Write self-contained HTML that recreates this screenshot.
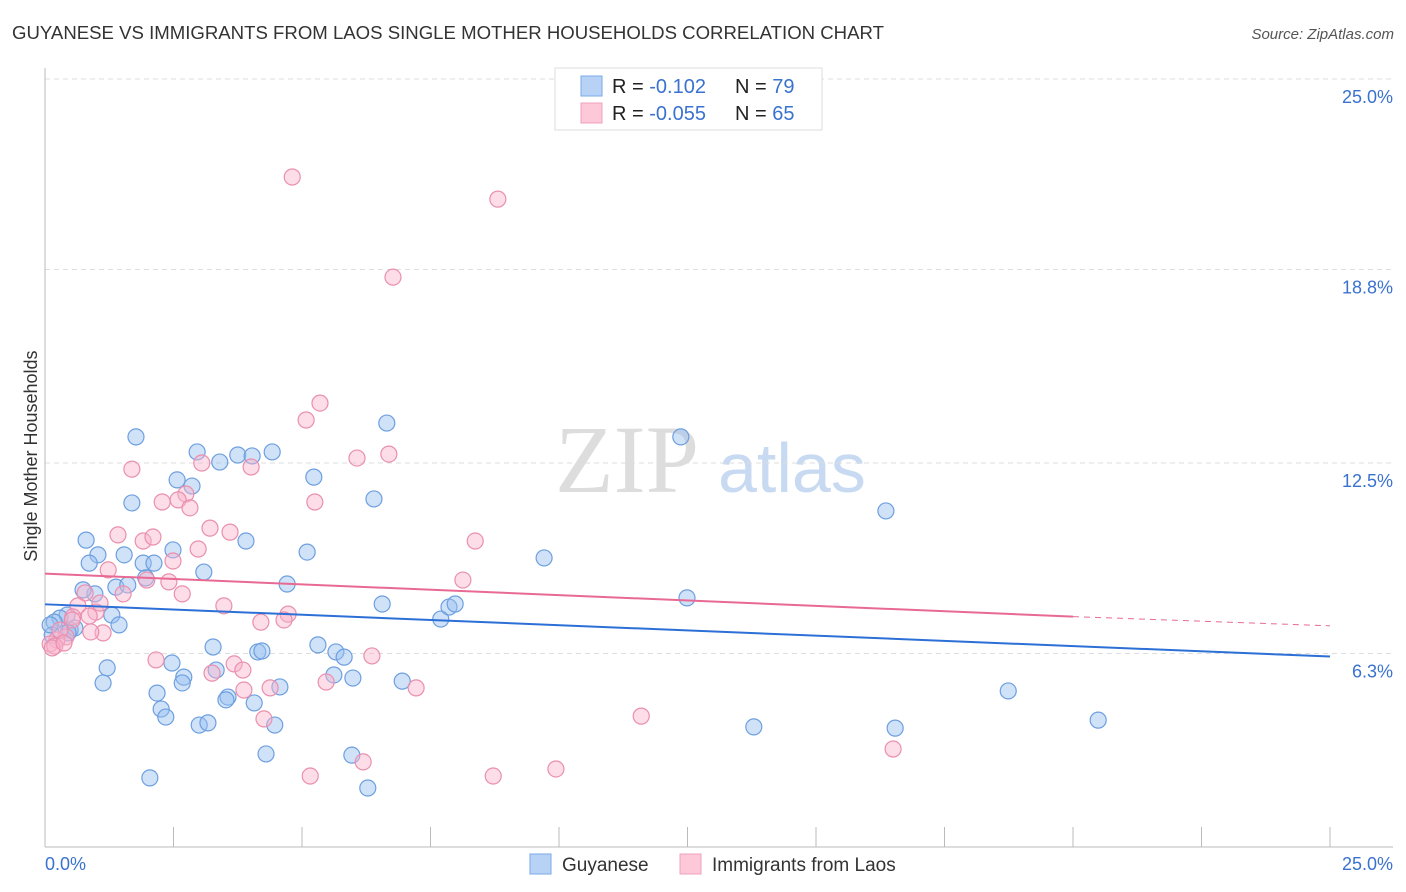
<!DOCTYPE html>
<html><head><meta charset="utf-8"><style>
body{margin:0;background:#fff;font-family:"Liberation Sans",sans-serif;}
#wrap{position:relative;width:1406px;height:892px;overflow:hidden;}
</style></head><body>
<div id="wrap">
<svg id="svg" width="1406" height="892" xmlns="http://www.w3.org/2000/svg">
<text x="12" y="39" font-size="18.6" fill="#333">GUYANESE VS IMMIGRANTS FROM LAOS SINGLE MOTHER HOUSEHOLDS CORRELATION CHART</text>
<text x="1394" y="39" font-size="15" fill="#555" font-style="italic" text-anchor="end">Source: ZipAtlas.com</text>
<text x="37" y="456" font-size="18" fill="#333" text-anchor="middle" transform="rotate(-90 37 456)">Single Mother Households</text>
<text x="555" y="492" font-size="96" fill="#ddd" font-family="Liberation Serif,serif">ZIP</text>
<text x="718" y="492" font-size="70" fill="#c8daf2">atlas</text>
<g id="grid"></g><g id="pts"></g><g id="trend"></g>
<g>
<rect x="555" y="68" width="267" height="62" fill="#fff" stroke="#ddd"/>
<rect x="581" y="76" width="21" height="20" fill="#b8d2f6" stroke="#7aaae8"/>
<rect x="581" y="103" width="21" height="20" fill="#fdc8d8" stroke="#f0a0bc"/>
<text x="612" y="93" font-size="20" fill="#222">R = <tspan fill="#3a72d0"> -0.102</tspan><tspan x="735">N = </tspan><tspan fill="#3a72d0">79</tspan></text>
<text x="612" y="120" font-size="20" fill="#222">R = <tspan fill="#3a72d0">-0.055</tspan><tspan x="735">N = </tspan><tspan fill="#3a72d0">65</tspan></text>
</g>
<g>
<rect x="530" y="854" width="21" height="20" fill="#b8d2f6" stroke="#7aaae8"/>
<text x="562" y="871" font-size="19" fill="#333">Guyanese</text>
<rect x="680" y="854" width="21" height="20" fill="#fdc8d8" stroke="#f0a0bc"/>
<text x="712" y="871" font-size="19" fill="#333">Immigrants from Laos</text>
</g>
</svg>
</div>
<script>
const yTicks=[25.0,18.8,12.5,6.3];
const yTickLabels=["25.0%","18.8%","12.5%","6.3%"];
const xTickLabels=["0.0%","25.0%"];
const blueTrend=[7.9,6.2];
const pinkTrend=[8.9,7.5,7.2];
const bluePx=[[136,437],[197,452],[238,455],[252,456],[272,452],[220,462],[177,480],[192,486],[132,503],[314,477],[387,423],[681,437],[374,499],[886,511],[86,540],[98,555],[124,555],[89,563],[143,563],[154,563],[173,550],[246,541],[307,552],[544,558],[204,572],[146,578],[116,587],[128,585],[287,584],[95,594],[83,590],[67,615],[112,615],[119,625],[60,618],[54,622],[70,630],[75,628],[52,635],[68,633],[382,604],[441,619],[449,607],[455,604],[687,598],[213,647],[318,645],[336,652],[344,657],[258,652],[262,651],[107,668],[172,663],[216,670],[334,675],[353,678],[184,677],[182,683],[103,683],[280,687],[402,681],[157,693],[161,709],[166,717],[228,697],[226,700],[254,703],[1008,691],[1098,720],[199,725],[208,723],[275,725],[754,727],[895,728],[266,754],[352,755],[150,778],[368,788],[50,625]];
const pinkPx=[[292,177],[498,199],[393,277],[320,403],[306,420],[389,454],[357,458],[202,463],[132,469],[251,467],[186,494],[162,502],[315,502],[178,500],[190,508],[210,528],[118,535],[230,532],[143,541],[153,537],[475,541],[198,549],[173,561],[108,570],[147,580],[169,582],[463,580],[123,594],[182,594],[85,593],[78,606],[96,612],[89,616],[224,606],[288,614],[261,622],[284,620],[73,617],[103,633],[91,632],[66,637],[57,640],[50,644],[55,646],[156,660],[234,664],[243,670],[212,673],[372,656],[326,682],[416,688],[244,690],[270,688],[264,719],[641,716],[893,749],[363,762],[310,776],[493,776],[556,769],[60,630],[52,648],[64,643],[72,620],[100,603]];
const blueX=bluePx.map(p=>+((p[0]-45)/51.4).toFixed(2));
const blueY=bluePx.map(p=>+((847-p[1])/30.72).toFixed(2));
const pinkX=pinkPx.map(p=>+((p[0]-45)/51.4).toFixed(2));
const pinkY=pinkPx.map(p=>+((847-p[1])/30.72).toFixed(2));
const NS="http://www.w3.org/2000/svg";
const sx=v=>45+v*51.4, sy=v=>847-v*30.72;
function mk(tag,attrs,parent){const e=document.createElementNS(NS,tag);for(const k in attrs)e.setAttribute(k,attrs[k]);document.getElementById(parent).appendChild(e);return e;}
yTicks.forEach((t,i)=>{
 const l=mk('line',{x1:45,x2:1393,y1:sy(t),y2:sy(t),stroke:'#ddd','stroke-dasharray':'5,4'},'grid');
 
 
 const tx=mk('text',{x:1393,y:sy(t)+24,'font-size':18,fill:'#3a72d0','text-anchor':'end'},'grid');tx.textContent=yTickLabels[i];
 
 
});
const ax=mk('line',{x1:45,x2:45,y1:68,y2:847,stroke:'#bbb'},'grid');


const bx=mk('line',{x1:45,x2:1393,y1:847,y2:847,stroke:'#bbb'},'grid');


for(let i=0;i<=10;i++){const t=mk('line',{x1:sx(i*2.5),x2:sx(i*2.5),y1:827,y2:847,stroke:'#bbb'},'grid');
 
 }
[[0,45,'start'],[25,1393,'end']].forEach((a,i)=>{const t=mk('text',{x:a[1],y:870,'font-size':18,fill:'#3a72d0','text-anchor':a[2]},'grid');t.textContent=xTickLabels[i];
 
 });
blueX.forEach((x,i)=>{const c=mk('circle',{cx:sx(x),cy:sy(blueY[i]),r:8,fill:'rgba(150,190,240,0.45)',stroke:'#6d9fe0','stroke-width':1.2},'pts');
 
 });
pinkX.forEach((x,i)=>{const c=mk('circle',{cx:sx(x),cy:sy(pinkY[i]),r:8,fill:'rgba(248,180,205,0.45)',stroke:'#ea8fae','stroke-width':1.2},'pts');
 
 });
const bt=mk('line',{x1:sx(0),y1:sy(blueTrend[0]),x2:sx(25),y2:sy(blueTrend[1]),stroke:'#2c6fd6','stroke-width':2},'trend');


const pt=mk('line',{x1:sx(0),y1:sy(pinkTrend[0]),x2:sx(20),y2:sy(pinkTrend[1]),stroke:'#e86a94','stroke-width':2},'trend');


const pd=mk('line',{x1:sx(20),y1:sy(pinkTrend[1]),x2:sx(25),y2:sy(pinkTrend[2]),stroke:'#e86a94','stroke-width':1,'stroke-dasharray':'6,5'},'trend');


</script>
</body></html>
